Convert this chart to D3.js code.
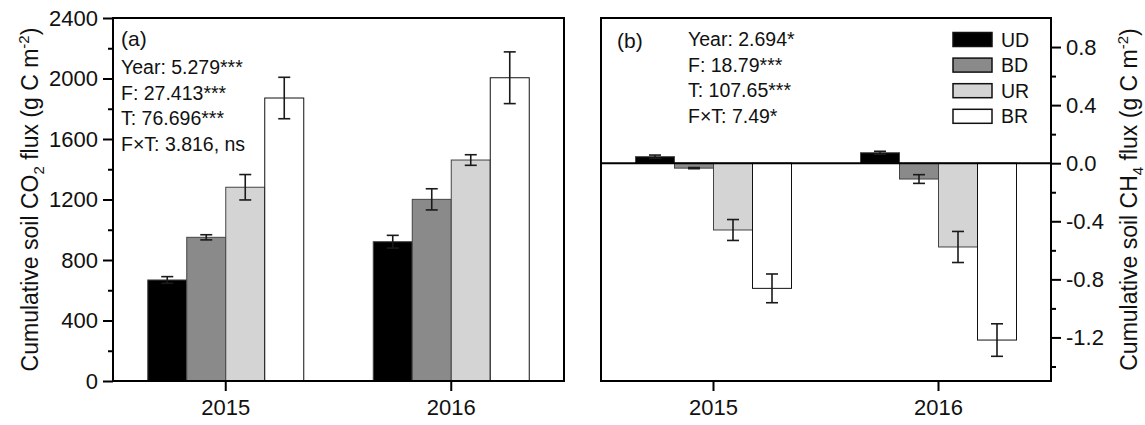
<!DOCTYPE html>
<html>
<head>
<meta charset="utf-8">
<script src="https://cdn.jsdelivr.net/npm/d3@7"></script>
<style>
  html, body { margin: 0; padding: 0; background: #fff; }
  svg { display: block; font-family: "Liberation Sans", Arial, sans-serif; }
</style>
</head>
<body>
<svg id="chart" width="1145" height="425"></svg>
<script>
// --- data ---
var years = ["2015", "2016"];
var treatments = ["UD", "BD", "UR", "BR"];
var fills = ["#000000", "#8a8a8a", "#d4d4d4", "#ffffff"];

// panel (a): cumulative soil CO2 flux, g C m-2
var co2Mean2015 = [668, 950, 1281, 1871];
var co2Err2015  = [22, 17, 84, 137];
var co2Mean2016 = [921, 1201, 1461, 2005];
var co2Err2016  = [42, 70, 35, 171];

// panel (b): cumulative soil CH4 flux, g C m-2
var ch4Mean2015 = [0.045, -0.034, -0.46, -0.862];
var ch4Err2015  = [0.011, 0.004, 0.072, 0.099];
var ch4Mean2016 = [0.072, -0.109, -0.577, -1.218];
var ch4Err2016  = [0.010, 0.030, 0.107, 0.112];

var co2Stats = ["Year: 5.279***", "F: 27.413***", "T: 76.696***", "F\u00d7T: 3.816, ns"];
var ch4Stats = ["Year: 2.694*", "F: 18.79***", "T: 107.65***", "F\u00d7T: 7.49*"];

var co2Ticks = [0, 400, 800, 1200, 1600, 2000, 2400];
var ch4Ticks = [-1.2, -0.8, -0.4, 0.0, 0.4, 0.8];

var svg = d3.select("#chart");
var plotTop = 18, plotBottom = 381;
var FONT = "Liberation Sans, Arial, sans-serif";

function rows(m15, e15, m16, e16) {
  var out = [];
  years.forEach(function (yr, i) {
    var m = i ? m16 : m15, e = i ? e16 : e15;
    treatments.forEach(function (t, j) {
      out.push({ year: yr, trt: t, idx: j, v: m[j], e: e[j] });
    });
  });
  return out;
}

function panel(opt) {
  var g = svg.append("g");
  var x = d3.scaleBand().domain(years).range([opt.left, opt.right]);
  var xi = d3.scaleBand().domain(treatments).range([0, 156]);
  var y = d3.scaleLinear().domain(opt.domain).range([plotBottom, plotTop]);
  var off = (x.bandwidth() - 156) / 2;
  var data = rows.apply(null, opt.series);

  // bars
  g.selectAll("rect.bar").data(data).join("rect").attr("class", "bar")
    .attr("x", function (d) { return x(d.year) + off + xi(d.trt); })
    .attr("width", xi.bandwidth())
    .attr("y", function (d) { return y(Math.max(0, d.v)); })
    .attr("height", function (d) { return Math.abs(y(d.v) - y(0)); })
    .attr("fill", function (d) { return fills[d.idx]; })
    .attr("stroke", function (d) { return d.idx === 3 ? "#111" : "#444"; })
    .attr("stroke-width", 1);

  // error bars
  var eb = g.selectAll("g.err").data(data).join("g").attr("class", "err")
    .attr("stroke", "#1a1a1a").attr("stroke-width", 1.6);
  function cx(d) { return x(d.year) + off + xi(d.trt) + xi.bandwidth() / 2; }
  eb.append("line")
    .attr("x1", cx).attr("x2", cx)
    .attr("y1", function (d) { return y(d.v - d.e); })
    .attr("y2", function (d) { return y(d.v + d.e); });
  [-1, 1].forEach(function (s) {
    eb.append("line")
      .attr("x1", function (d) { return cx(d) - 6; })
      .attr("x2", function (d) { return cx(d) + 6; })
      .attr("y1", function (d) { return y(d.v + s * d.e); })
      .attr("y2", function (d) { return y(d.v + s * d.e); });
  });

  if (opt.zeroLine) {
    g.append("line").attr("x1", opt.left).attr("x2", opt.right)
      .attr("y1", y(0)).attr("y2", y(0))
      .attr("stroke", "#000").attr("stroke-width", 2);
  }

  // frame
  g.append("rect").attr("x", opt.left).attr("y", plotTop)
    .attr("width", opt.right - opt.left).attr("height", plotBottom - plotTop)
    .attr("fill", "none").attr("stroke", "#000").attr("stroke-width", 2);

  // y axis: major + minor ticks
  var side = opt.axisRight ? d3.axisRight : d3.axisLeft;
  var ax = opt.axisRight ? opt.right : opt.left;
  var ga = g.append("g").attr("transform", "translate(" + ax + ",0)")
    .call(side(y).tickValues(opt.ticks).tickSize(10).tickPadding(5).tickFormat(opt.fmt));
  g.append("g").attr("transform", "translate(" + ax + ",0)")
    .call(side(y).tickValues(opt.minor).tickSize(5).tickFormat(""))
    .call(function (s) { s.select(".domain").remove(); s.selectAll("line").attr("stroke-width", 2); });
  ga.select(".domain").remove();
  ga.selectAll("line").attr("stroke-width", 2);
  ga.selectAll("text").attr("font-size", 22).attr("fill", "#111").attr("font-family", FONT);

  // x axis
  var gx = g.append("g").attr("transform", "translate(0," + plotBottom + ")")
    .call(d3.axisBottom(x).tickSize(10).tickPadding(8));
  gx.select(".domain").remove();
  gx.selectAll("line").attr("stroke-width", 2);
  gx.selectAll("text").attr("font-size", 22).attr("fill", "#111").attr("font-family", FONT);

  // panel letter + stats
  g.append("text").attr("x", opt.letterX).attr("y", opt.letterY)
    .attr("font-size", 21).attr("fill", "#111").text(opt.letter);
  g.selectAll("text.stat").data(opt.stats).join("text").attr("class", "stat")
    .attr("x", opt.statX)
    .attr("y", function (d, i) { return opt.statY + i * 25.5; })
    .attr("font-size", 19.5).attr("fill", "#111").text(function (d) { return d; });

  // axis title (rotated)
  var t = g.append("text")
    .attr("transform", "translate(" + opt.titleX + "," + ((plotTop + plotBottom) / 2) + ") rotate(-90)")
    .attr("text-anchor", "middle").attr("font-size", 23).attr("fill", "#111");
  t.append("tspan").text("Cumulative soil " + opt.gas);
  t.append("tspan").attr("dy", 6).attr("font-size", 15).text(opt.sub);
  t.append("tspan").attr("dy", -6).text(" flux (g C m");
  t.append("tspan").attr("dy", -9).attr("font-size", 15).text("-2");
  t.append("tspan").attr("dy", 9).text(")");
}

panel({
  left: 113, right: 564, domain: [0, 2400],
  series: [co2Mean2015, co2Err2015, co2Mean2016, co2Err2016],
  ticks: co2Ticks, minor: [200, 600, 1000, 1400, 1800, 2200],
  fmt: d3.format("d"),
  letter: "(a)", letterX: 121, letterY: 46,
  stats: co2Stats, statX: 121, statY: 74,
  gas: "CO", sub: "2", titleX: 38
});

panel({
  left: 601, right: 1051, domain: [-1.5, 1.0], zeroLine: true, axisRight: true,
  series: [ch4Mean2015, ch4Err2015, ch4Mean2016, ch4Err2016],
  ticks: ch4Ticks, minor: [-1.4, -1.0, -0.6, -0.2, 0.2, 0.6],
  // plain hyphen for negatives, as in the original figure
  fmt: function (v) { return d3.format(".1f")(v).replace("\u2212", "-"); },
  letter: "(b)", letterX: 617, letterY: 48,
  stats: ch4Stats, statX: 688, statY: 46,
  gas: "CH", sub: "4", titleX: 1137
});

// legend (panel b)
var leg = svg.append("g").selectAll("g").data(treatments).join("g")
  .attr("transform", function (d, i) { return "translate(953," + (32.5 + i * 25.6) + ")"; });
leg.append("rect").attr("width", 39).attr("height", 14)
  .attr("fill", function (d, i) { return fills[i]; })
  .attr("stroke", "#111").attr("stroke-width", 1.5);
leg.append("text").attr("x", 48).attr("y", 14).attr("font-size", 19.5).attr("fill", "#111")
  .text(function (d) { return d; });
</script>
</body>
</html>
